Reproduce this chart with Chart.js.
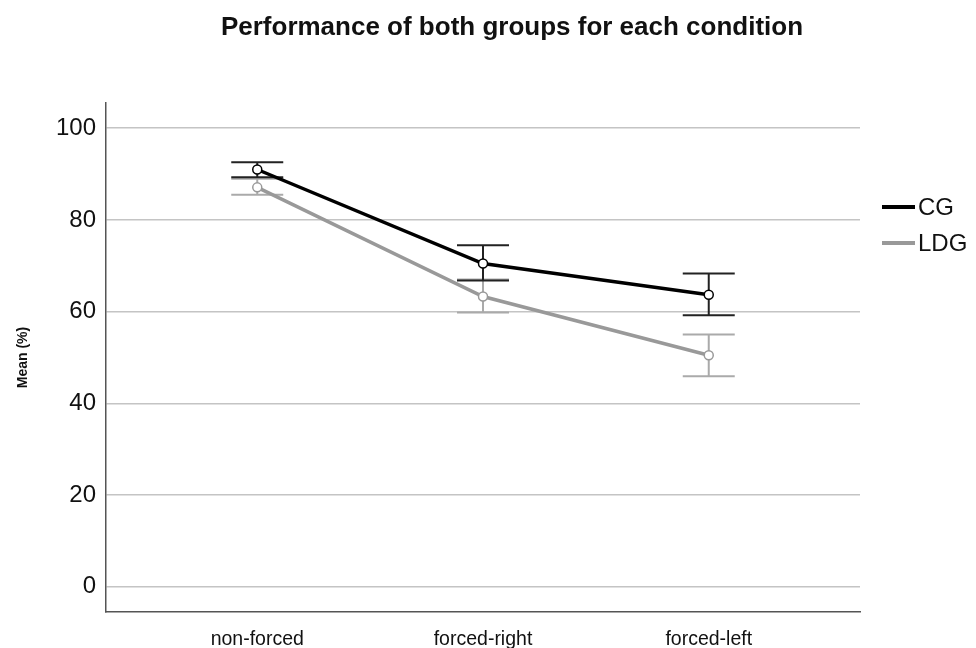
<!DOCTYPE html>
<html>
<head>
<meta charset="utf-8">
<script src="https://cdn.jsdelivr.net/npm/chart.js@4"></script>
<style>
  html, body { margin: 0; padding: 0; background: #fff; }
  #wrap { width: 976px; height: 648px; }
</style>
</head>
<body>
<div id="wrap"><canvas id="myLineChart" width="976" height="648"></canvas></div>
<script>
var categories = ['non-forced', 'forced-right', 'forced-left'];
var yTicks = [0, 20, 40, 60, 80, 100];

var cgMean = [91.0, 70.5, 63.7];
var cgLow = [89.3, 66.8, 59.2];
var cgHigh = [92.6, 74.5, 68.3];

var ldgMean = [87.1, 63.3, 50.5];
var ldgLow = [85.5, 59.8, 45.9];
var ldgHigh = [89.0, 67.0, 55.0];

var FONT = "'Liberation Sans', Arial, sans-serif";

function toPoints(arr) {
  return arr.map(function(v, i) { return { x: i, y: v }; });
}

// error bars, drawn under the lines/points
var errorBars = {
  id: 'errorBars',
  beforeDatasetsDraw: function(chart) {
    var ctx = chart.ctx;
    var xs = chart.scales.x, ys = chart.scales.y;
    var sets = [
      { low: ldgLow, high: ldgHigh, color: '#aaaaaa' },
      { low: cgLow, high: cgHigh, color: '#222222' }
    ];
    ctx.save();
    sets.forEach(function(s) {
      ctx.strokeStyle = s.color;
      ctx.lineWidth = 2;
      for (var i = 0; i < s.low.length; i++) {
        var x = xs.getPixelForValue(i);
        var y1 = ys.getPixelForValue(s.low[i]);
        var y2 = ys.getPixelForValue(s.high[i]);
        ctx.beginPath();
        ctx.moveTo(x, y1); ctx.lineTo(x, y2);
        ctx.moveTo(x - 26, y1); ctx.lineTo(x + 26, y1);
        ctx.moveTo(x - 26, y2); ctx.lineTo(x + 26, y2);
        ctx.stroke();
      }
    });
    ctx.restore();
  }
};

// title + legend like the SPSS output
var extras = {
  id: 'extras',
  afterDraw: function(chart) {
    var ctx = chart.ctx;
    var area = chart.chartArea;
    ctx.save();
    ctx.fillStyle = '#111';
    ctx.font = 'bold 26px ' + FONT;
    ctx.textAlign = 'center';
    ctx.textBaseline = 'alphabetic';
    ctx.fillText('Performance of both groups for each condition', 512, 35);

    ctx.textAlign = 'left';
    ctx.textBaseline = 'middle';
    ctx.font = '24px ' + FONT;
    chart.data.datasets.forEach(function(ds, i) {
      var y = area.top + 104 + i * 36;
      ctx.strokeStyle = ds.borderColor;
      ctx.lineWidth = 4;
      ctx.beginPath();
      ctx.moveTo(area.right + 22, y);
      ctx.lineTo(area.right + 55, y);
      ctx.stroke();
      ctx.fillStyle = '#111';
      ctx.fillText(ds.label, area.right + 58, y + 1);
    });
    ctx.restore();
  }
};

document.addEventListener('DOMContentLoaded', function() {
  var ctx = document.getElementById('myLineChart').getContext('2d');
  var myLineChart = new Chart(ctx, {
    type: 'line',
    data: {
      datasets: [
        {
          label: 'CG',
          data: toPoints(cgMean),
          borderColor: '#000000',
          borderWidth: 3.5,
          pointRadius: 4.5,
          pointBorderWidth: 1.5,
          pointBorderColor: '#000000',
          pointBackgroundColor: '#ffffff',
          tension: 0
        },
        {
          label: 'LDG',
          data: toPoints(ldgMean),
          borderColor: '#999999',
          borderWidth: 3.5,
          pointRadius: 4.5,
          pointBorderWidth: 1.5,
          pointBorderColor: '#999999',
          pointBackgroundColor: '#ffffff',
          tension: 0
        }
      ]
    },
    options: {
      responsive: false,
      animation: false,
      events: [],
      layout: { padding: { top: 103, right: 116, left: 0, bottom: 0 } },
      plugins: {
        legend: { display: false },
        title: { display: false },
        tooltip: { enabled: false }
      },
      scales: {
        x: {
          type: 'linear',
          min: -0.67,
          max: 2.67,
          afterBuildTicks: function(scale) {
            scale.ticks = categories.map(function(c, i) { return { value: i }; });
          },
          afterFit: function(scale) { scale.height = 36; },
          grid: { display: false },
          border: { display: true, color: '#555555', width: 1.5 },
          ticks: {
            autoSkip: false,
            maxRotation: 0,
            padding: 8,
            color: '#111',
            font: { family: FONT, size: 19.5 },
            callback: function(v) { return categories[v]; }
          }
        },
        y: {
          min: -5.5,
          max: 105.5,
          afterBuildTicks: function(scale) {
            scale.ticks = yTicks.map(function(v) { return { value: v }; });
          },
          afterFit: function(scale) { scale.width = 106; },
          grid: { color: '#c4c4c4', lineWidth: 1.5, drawTicks: false },
          border: { display: true, color: '#555555', width: 1.5 },
          ticks: {
            padding: 10,
            color: '#111',
            font: { family: FONT, size: 24 }
          },
          title: {
            display: true,
            text: 'Mean (%)',
            color: '#111',
            font: { family: FONT, size: 14, weight: 'bold' },
            padding: { top: 15, bottom: 0 }
          }
        }
      }
    },
    plugins: [errorBars, extras]
  });
});
</script>
</body>
</html>
